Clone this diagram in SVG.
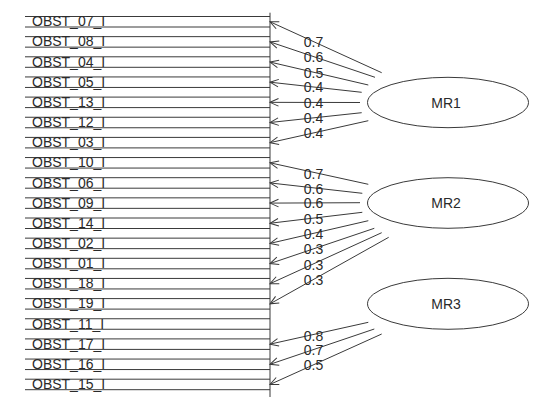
<svg xmlns="http://www.w3.org/2000/svg" width="554" height="412" viewBox="0 0 554 412">
<style>
text{font-family:"Liberation Sans",Arial,sans-serif;font-size:14px;fill:#2a2a2a}
.box{fill:none;stroke:#3a3a3a;stroke-width:1}
.ell{fill:none;stroke:#3a3a3a;stroke-width:1}
.c{fill:none;stroke:#3a3a3a;stroke-width:1;marker-end:url(#ah)}
.l{text-anchor:middle}
.m{text-anchor:middle}
</style>
<defs>
<marker id="ah" markerUnits="userSpaceOnUse" markerWidth="12" markerHeight="12" viewBox="-10 -6 12 12" refX="0" refY="0" orient="auto">
<path d="M-8.5,-3.8 L0,0 L-8.5,3.8" fill="none" stroke="#3a3a3a" stroke-width="1"/>
</marker>
</defs>
<rect width="554" height="412" fill="#fff"/>
<g id="variables">
<g id="OBST_07_I"><path class="box" d="M25,16.5H270M25,27H270"/><text x="32" y="26.3">OBST_07_I</text></g>
<g id="OBST_08_I"><path class="box" d="M25,36.65H270M25,47.15H270"/><text x="32" y="46.45">OBST_08_I</text></g>
<g id="OBST_04_I"><path class="box" d="M25,56.8H270M25,67.3H270"/><text x="32" y="66.6">OBST_04_I</text></g>
<g id="OBST_05_I"><path class="box" d="M25,76.95H270M25,87.45H270"/><text x="32" y="86.75">OBST_05_I</text></g>
<g id="OBST_13_I"><path class="box" d="M25,97.1H270M25,107.6H270"/><text x="32" y="106.9">OBST_13_I</text></g>
<g id="OBST_12_I"><path class="box" d="M25,117.25H270M25,127.75H270"/><text x="32" y="127.05">OBST_12_I</text></g>
<g id="OBST_03_I"><path class="box" d="M25,137.4H270M25,147.9H270"/><text x="32" y="147.2">OBST_03_I</text></g>
<g id="OBST_10_I"><path class="box" d="M25,157.55H270M25,168.05H270"/><text x="32" y="167.35">OBST_10_I</text></g>
<g id="OBST_06_I"><path class="box" d="M25,177.7H270M25,188.2H270"/><text x="32" y="187.5">OBST_06_I</text></g>
<g id="OBST_09_I"><path class="box" d="M25,197.85H270M25,208.35H270"/><text x="32" y="207.65">OBST_09_I</text></g>
<g id="OBST_14_I"><path class="box" d="M25,218H270M25,228.5H270"/><text x="32" y="227.8">OBST_14_I</text></g>
<g id="OBST_02_I"><path class="box" d="M25,238.15H270M25,248.65H270"/><text x="32" y="247.95">OBST_02_I</text></g>
<g id="OBST_01_I"><path class="box" d="M25,258.3H270M25,268.8H270"/><text x="32" y="268.1">OBST_01_I</text></g>
<g id="OBST_18_I"><path class="box" d="M25,278.45H270M25,288.95H270"/><text x="32" y="288.25">OBST_18_I</text></g>
<g id="OBST_19_I"><path class="box" d="M25,298.6H270M25,309.1H270"/><text x="32" y="308.4">OBST_19_I</text></g>
<g id="OBST_11_I"><path class="box" d="M25,318.75H270M25,329.25H270"/><text x="32" y="328.55">OBST_11_I</text></g>
<g id="OBST_17_I"><path class="box" d="M25,338.9H270M25,349.4H270"/><text x="32" y="348.7">OBST_17_I</text></g>
<g id="OBST_16_I"><path class="box" d="M25,359.05H270M25,369.55H270"/><text x="32" y="368.85">OBST_16_I</text></g>
<g id="OBST_15_I"><path class="box" d="M25,379.2H270M25,389.7H270"/><text x="32" y="389">OBST_15_I</text></g>
<line id="axis" x1="270" y1="12.7" x2="270" y2="397" class="box"/>
</g>
<g id="MR1"><ellipse class="ell" cx="448" cy="102.5" rx="80.5" ry="25.2"/><text class="m" x="446" y="107.5">MR1</text></g>
<g id="MR2"><ellipse class="ell" cx="448" cy="203" rx="80.5" ry="25.3"/><text class="m" x="446" y="208">MR2</text></g>
<g id="MR3"><ellipse class="ell" cx="448" cy="303.8" rx="80.5" ry="25.5"/><text class="m" x="446" y="308.8">MR3</text></g>
<g id="connectors">
<line class="c" x1="381.7" y1="72.7" x2="270" y2="21.75"/>
<line class="c" x1="375" y1="77.3" x2="270" y2="41.9"/>
<line class="c" x1="368.3" y1="85" x2="270" y2="62.05"/>
<line class="c" x1="361.7" y1="92.3" x2="270" y2="82.2"/>
<line class="c" x1="360" y1="102.5" x2="270" y2="102.35"/>
<line class="c" x1="361.7" y1="112.7" x2="270" y2="122.5"/>
<line class="c" x1="368.3" y1="120.7" x2="270" y2="142.65"/>
<line class="c" x1="368.3" y1="184.3" x2="270" y2="162.8"/>
<line class="c" x1="362.3" y1="193.3" x2="270" y2="182.95"/>
<line class="c" x1="360" y1="202.7" x2="270" y2="203.1"/>
<line class="c" x1="362.3" y1="212.3" x2="270" y2="223.25"/>
<line class="c" x1="368.3" y1="220.7" x2="270" y2="243.4"/>
<line class="c" x1="374.3" y1="228.3" x2="270" y2="263.55"/>
<line class="c" x1="381.7" y1="232.7" x2="270" y2="283.7"/>
<line class="c" x1="388.7" y1="237.3" x2="270" y2="303.85"/>
<line class="c" x1="368.3" y1="322.3" x2="270" y2="344.15"/>
<line class="c" x1="374.3" y1="329" x2="270" y2="364.3"/>
<line class="c" x1="381.7" y1="334" x2="270" y2="384.45"/>
<text class="l" x="313.5" y="47">0.7</text>
<text class="l" x="313.5" y="62.3">0.6</text>
<text class="l" x="313.5" y="77.7">0.5</text>
<text class="l" x="313.5" y="92">0.4</text>
<text class="l" x="313.5" y="108">0.4</text>
<text class="l" x="313.5" y="122.8">0.4</text>
<text class="l" x="313.5" y="137.5">0.4</text>
<text class="l" x="313.5" y="178.5">0.7</text>
<text class="l" x="313.5" y="193.5">0.6</text>
<text class="l" x="313.5" y="208">0.6</text>
<text class="l" x="313.5" y="223.8">0.5</text>
<text class="l" x="313.5" y="239">0.4</text>
<text class="l" x="313.5" y="254.2">0.3</text>
<text class="l" x="313.5" y="269.5">0.3</text>
<text class="l" x="313.5" y="284.5">0.3</text>
<text class="l" x="313.5" y="340.5">0.8</text>
<text class="l" x="313.5" y="355">0.7</text>
<text class="l" x="313.5" y="370">0.5</text>
</g>
</svg>
